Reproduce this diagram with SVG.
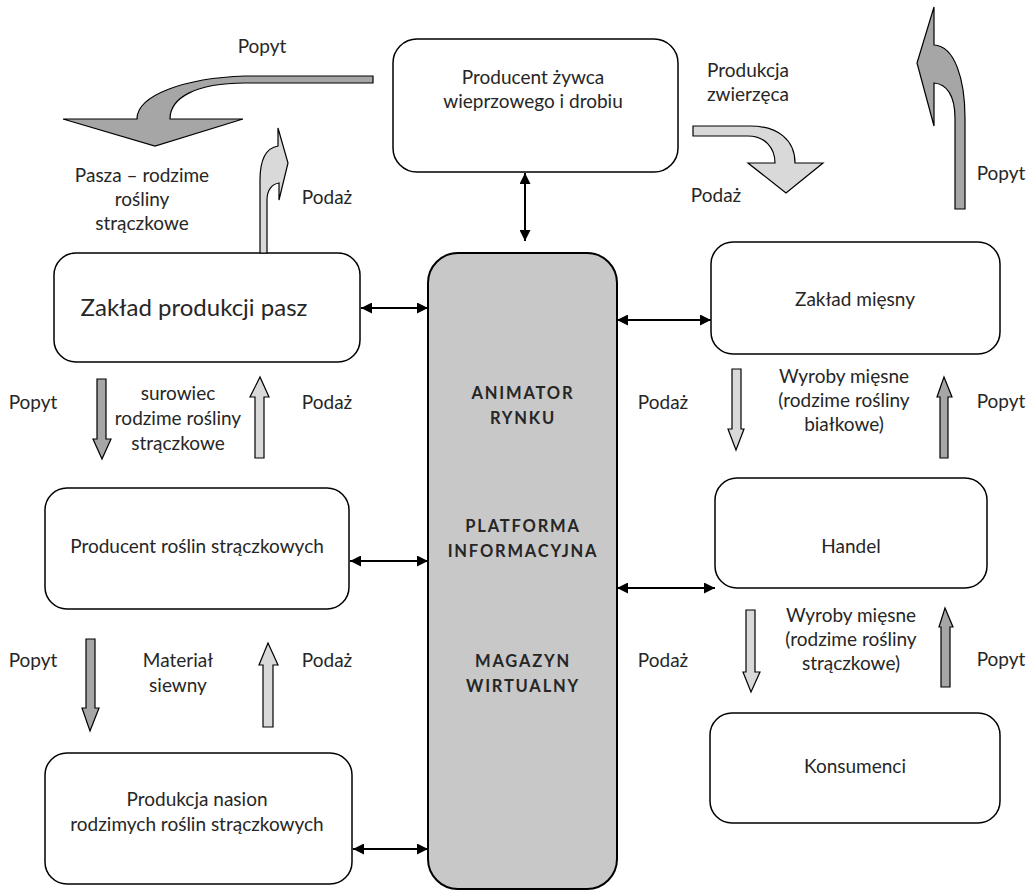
<svg xmlns="http://www.w3.org/2000/svg" width="1032" height="890" viewBox="0 0 1032 890">
  <defs>
    <marker id="head" viewBox="0 0 10 10" markerUnits="userSpaceOnUse" markerWidth="11" markerHeight="11" refX="10" refY="5" orient="auto-start-reverse">
      <path d="M0,0 L10,5 L0,10 z" fill="#000"/>
    </marker>
    <style>
      .box { fill: #fff; stroke: #000; stroke-width: 1.5; }
      .hub { fill: #c8c8c8; stroke: #000; stroke-width: 2; }
      .t { font-family: Lato, "Open Sans", "Liberation Sans", sans-serif; font-size: 19px; fill: #262626; text-anchor: middle; }
      .big { font-size: 24px; }
      .b { font-weight: bold; font-size: 16.5px; letter-spacing: 1.8px; }
      .link { stroke: #000; stroke-width: 2; fill: none; marker-start: url(#head); marker-end: url(#head); }
      .dark { fill: #a6a6a6; stroke: #000; stroke-width: 1.2; stroke-linejoin: miter; }
      .light { fill: #d9d9d9; stroke: #000; stroke-width: 1.2; stroke-linejoin: miter; }
    </style>
  </defs>
  <rect width="1032" height="890" fill="#fff"/>

  <!-- central hub -->
  <g id="hub">
    <rect class="hub" x="428" y="253" width="189" height="636" rx="30"/>
    <text class="t b" x="523" y="399">ANIMATOR</text>
    <text class="t b" x="523" y="424">RYNKU</text>
    <text class="t b" x="523" y="532">PLATFORMA</text>
    <text class="t b" x="523" y="557">INFORMACYJNA</text>
    <text class="t b" x="523" y="667">MAGAZYN</text>
    <text class="t b" x="523" y="692">WIRTUALNY</text>
  </g>

  <g id="producent-zywca">
    <rect class="box" x="393" y="39" width="285" height="133" rx="24"/>
    <text class="t" x="533" y="84">Producent żywca</text>
    <text class="t" x="533" y="108">wieprzowego i drobiu</text>
  </g>

  <g id="zaklad-pasz">
    <rect class="box" x="54" y="253" width="306" height="109" rx="22"/>
    <text class="t big" x="194" y="316">Zakład produkcji pasz</text>
  </g>

  <g id="producent-roslin">
    <rect class="box" x="45" y="488" width="304" height="121" rx="22"/>
    <text class="t" x="197" y="553">Producent roślin strączkowych</text>
  </g>

  <g id="produkcja-nasion">
    <rect class="box" x="45" y="753" width="307" height="131" rx="22"/>
    <text class="t" x="197" y="806">Produkcja nasion</text>
    <text class="t" x="197" y="831">rodzimych roślin strączkowych</text>
  </g>

  <g id="zaklad-miesny">
    <rect class="box" x="711" y="242" width="289" height="112" rx="22"/>
    <text class="t" x="855" y="306">Zakład mięsny</text>
  </g>

  <g id="handel">
    <rect class="box" x="715" y="478" width="272" height="110" rx="22"/>
    <text class="t" x="851" y="553">Handel</text>
  </g>

  <g id="konsumenci">
    <rect class="box" x="710" y="713" width="290" height="110" rx="22"/>
    <text class="t" x="855" y="773">Konsumenci</text>
  </g>

  <!-- links to the hub -->
  <g id="connectors">
    <line class="link" x1="525" y1="173" x2="525" y2="241"/>
    <line class="link" x1="361" y1="308" x2="428" y2="308"/>
    <line class="link" x1="617" y1="320" x2="711" y2="320"/>
    <line class="link" x1="350" y1="561" x2="428" y2="561"/>
    <line class="link" x1="617" y1="588" x2="715" y2="588"/>
    <line class="link" x1="353" y1="849" x2="428" y2="849"/>
  </g>

  <!-- flow arrows -->
  <g id="flows">
    <!-- demand for feed -->
    <path class="dark" d="M373,76 L245,76 C185,78 137,95 137,119 L63,119 L155,146 L243,119 L170,119 C170,98 195,83 245,83 L373,83 Z"/>
    <!-- supply of feed -->
    <path class="light" d="M260,253 L260,180 C260,160 266,148 278,146 L278,128 L288,163 L279,200 L279,183 C272,184 267,190 267,200 L267,253 Z"/>
    <!-- animal production -->
    <path class="light" d="M693,126 L750,126 C778,126 795,140 795,163 L823,163 L786,193 L748,163 L775,163 C775,148 765,136 748,136 L693,136 Z"/>
    <!-- demand for livestock -->
    <path class="dark" d="M955,209 L955,118 C955,96 947,84 934,83 L934,126 L917,63 L934,7 L934,45 C955,46 965,80 965,118 L965,209 Z"/>

    <path class="dark" d="M97,379 L106,379 L106,439 L111,439 L102,459 L93,439 L97,439 Z"/>
    <path class="light" d="M255,458 L264,458 L264,397 L269,397 L260,377 L250,397 L255,397 Z"/>
    <path class="dark" d="M86,639 L95,639 L95,708 L99,708 L90,731 L82,708 L86,708 Z"/>
    <path class="light" d="M263,727 L273,727 L273,665 L278,665 L268,643 L259,665 L263,665 Z"/>
    <path class="light" d="M732,369 L741,369 L741,429 L744,429 L736,450 L728,429 L732,429 Z"/>
    <path class="dark" d="M940,458 L948,458 L948,397 L952,397 L944,377 L937,397 L940,397 Z"/>
    <path class="light" d="M746,610 L755,610 L755,672 L760,672 L751,692 L743,672 L746,672 Z"/>
    <path class="dark" d="M941,687 L950,687 L950,627 L953,627 L945,608 L939,627 L941,627 Z"/>
  </g>

  <!-- flow labels -->
  <g id="labels">
    <text class="t" x="262" y="53">Popyt</text>
    <text class="t" x="142" y="182">Pasza – rodzime</text>
    <text class="t" x="142" y="206">rośliny</text>
    <text class="t" x="142" y="230">strączkowe</text>
    <text class="t" x="327" y="204">Podaż</text>
    <text class="t" x="748" y="77">Produkcja</text>
    <text class="t" x="748" y="101">zwierzęca</text>
    <text class="t" x="716" y="202">Podaż</text>
    <text class="t" x="1001" y="180">Popyt</text>

    <text class="t" x="33" y="409">Popyt</text>
    <text class="t" x="178" y="400">surowiec</text>
    <text class="t" x="178" y="425">rodzime rośliny</text>
    <text class="t" x="178" y="450">strączkowe</text>
    <text class="t" x="327" y="409">Podaż</text>

    <text class="t" x="663" y="409">Podaż</text>
    <text class="t" x="844" y="383">Wyroby mięsne</text>
    <text class="t" x="844" y="407">(rodzime rośliny</text>
    <text class="t" x="844" y="431">białkowe)</text>
    <text class="t" x="1001" y="408">Popyt</text>

    <text class="t" x="33" y="667">Popyt</text>
    <text class="t" x="178" y="667">Materiał</text>
    <text class="t" x="178" y="692">siewny</text>
    <text class="t" x="327" y="667">Podaż</text>

    <text class="t" x="663" y="667">Podaż</text>
    <text class="t" x="851" y="622">Wyroby mięsne</text>
    <text class="t" x="851" y="646">(rodzime rośliny</text>
    <text class="t" x="851" y="670">strączkowe)</text>
    <text class="t" x="1001" y="666">Popyt</text>
  </g>
</svg>
